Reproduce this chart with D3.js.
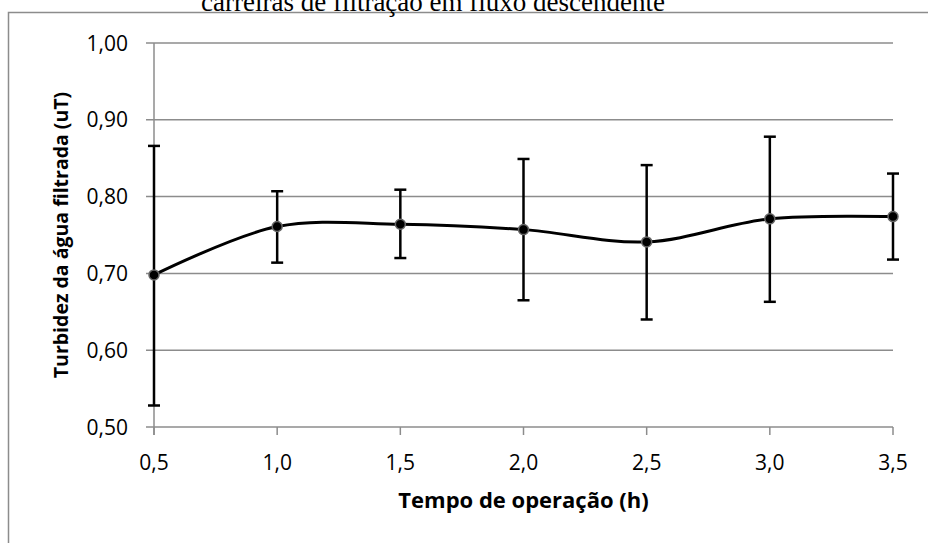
<!DOCTYPE html>
<html>
<head>
<meta charset="utf-8">
<script src="https://cdn.jsdelivr.net/npm/d3@7"></script>
<style>
  body { margin: 0; background: #fff; overflow: hidden; }
  svg { display: block; }
  text { font-family: "Open Sans", sans-serif; fill: #000; }
</style>
</head>
<body>
<script>
var tempo = [0.5, 1.0, 1.5, 2.0, 2.5, 3.0, 3.5]
var turbidez = [0.698, 0.761, 0.764, 0.757, 0.741, 0.771, 0.774]
var erroSup = [0.866, 0.807, 0.809, 0.849, 0.841, 0.878, 0.830]
var erroInf = [0.528, 0.714, 0.720, 0.665, 0.640, 0.663, 0.718]
var yTicks = [0.5, 0.6, 0.7, 0.8, 0.9, 1.0]

var width = 928, height = 543
var plotLeft = 154, plotRight = 893, plotTop = 43, plotBottom = 427
var grid = "#8c8c8c"

var fmt = function(d, n) { return d.toFixed(n).replace(".", ",") }

var svg = d3.select("body").append("svg")
    .attr("width", width)
    .attr("height", height)

// chart frame, runs off the right and bottom edges
svg.append("rect")
    .attr("x", 8.5).attr("y", 12.5)
    .attr("width", width + 10).attr("height", height + 10)
    .attr("fill", "none")
    .attr("stroke", grid)
    .attr("stroke-width", 1.5)

// title, cut by the top of the picture
svg.append("text")
    .attr("x", 433).attr("y", 11)
    .attr("text-anchor", "middle")
    .style("font-family", "'Liberation Serif', serif")
    .style("font-size", "27px")
    .text("carreiras de filtração em fluxo descendente")

var x = d3.scaleLinear().domain([0.5, 3.5]).range([plotLeft, plotRight])
var y = d3.scaleLinear().domain([0.5, 1.0]).range([plotBottom, plotTop])

// horizontal gridlines with small ticks to the left
svg.append("g").selectAll("line")
    .data(yTicks)
    .enter().append("line")
    .attr("x1", plotLeft - 8).attr("x2", plotRight)
    .attr("y1", function(d) { return y(d) }).attr("y2", function(d) { return y(d) })
    .attr("stroke", grid).attr("stroke-width", 1.5)

// y axis line
svg.append("line")
    .attr("x1", plotLeft).attr("x2", plotLeft)
    .attr("y1", plotTop).attr("y2", plotBottom + 8)
    .attr("stroke", grid).attr("stroke-width", 1.5)

// x ticks
svg.append("g").selectAll("line")
    .data(tempo)
    .enter().append("line")
    .attr("x1", function(d) { return x(d) }).attr("x2", function(d) { return x(d) })
    .attr("y1", plotBottom).attr("y2", plotBottom + 8)
    .attr("stroke", grid).attr("stroke-width", 1.5)

svg.append("g").selectAll("text")
    .data(yTicks)
    .enter().append("text")
    .attr("x", 128)
    .attr("y", function(d) { return y(d) + 7.5 })
    .attr("text-anchor", "end")
    .style("font-size", "21px")
    .text(function(d) { return fmt(d, 2) })

svg.append("g").selectAll("text")
    .data(tempo)
    .enter().append("text")
    .attr("x", function(d) { return x(d) })
    .attr("y", 470)
    .attr("text-anchor", "middle")
    .style("font-size", "21px")
    .text(function(d) { return fmt(d, 1) })

svg.append("text")
    .attr("x", (plotLeft + plotRight) / 2).attr("y", 508)
    .attr("text-anchor", "middle")
    .style("font-size", "22px").style("font-weight", "bold")
    .text("Tempo de operação (h)")

svg.append("text")
    .attr("transform", "translate(68," + (plotTop + plotBottom) / 2 + ") rotate(-90)")
    .attr("text-anchor", "middle")
    .style("font-size", "19.5px").style("font-weight", "bold")
    .text("Turbidez da água filtrada (uT)")

// error bars
var bars = svg.append("g").attr("stroke", "#000").attr("stroke-width", 2.5)
tempo.forEach(function(t, i) {
  bars.append("line")
      .attr("x1", x(t)).attr("x2", x(t))
      .attr("y1", y(erroSup[i])).attr("y2", y(erroInf[i]))
  ;[erroSup[i], erroInf[i]].forEach(function(v) {
    bars.append("line")
        .attr("x1", x(t) - 6).attr("x2", x(t) + 6)
        .attr("y1", y(v)).attr("y2", y(v))
  })
})

var line = d3.line()
    .x(function(d, i) { return x(tempo[i]) })
    .y(function(d) { return y(d) })
    .curve(d3.curveCatmullRom.alpha(0.5))

svg.append("path")
    .datum(turbidez)
    .attr("d", line)
    .attr("fill", "none")
    .attr("stroke", "#000")
    .attr("stroke-width", 3)

svg.append("g").selectAll("circle")
    .data(turbidez)
    .enter().append("circle")
    .attr("cx", function(d, i) { return x(tempo[i]) })
    .attr("cy", function(d) { return y(d) })
    .attr("r", 5)
    .attr("fill", "#000")
    .attr("stroke", "#666")
    .attr("stroke-width", 1.5)
</script>
</body>
</html>
